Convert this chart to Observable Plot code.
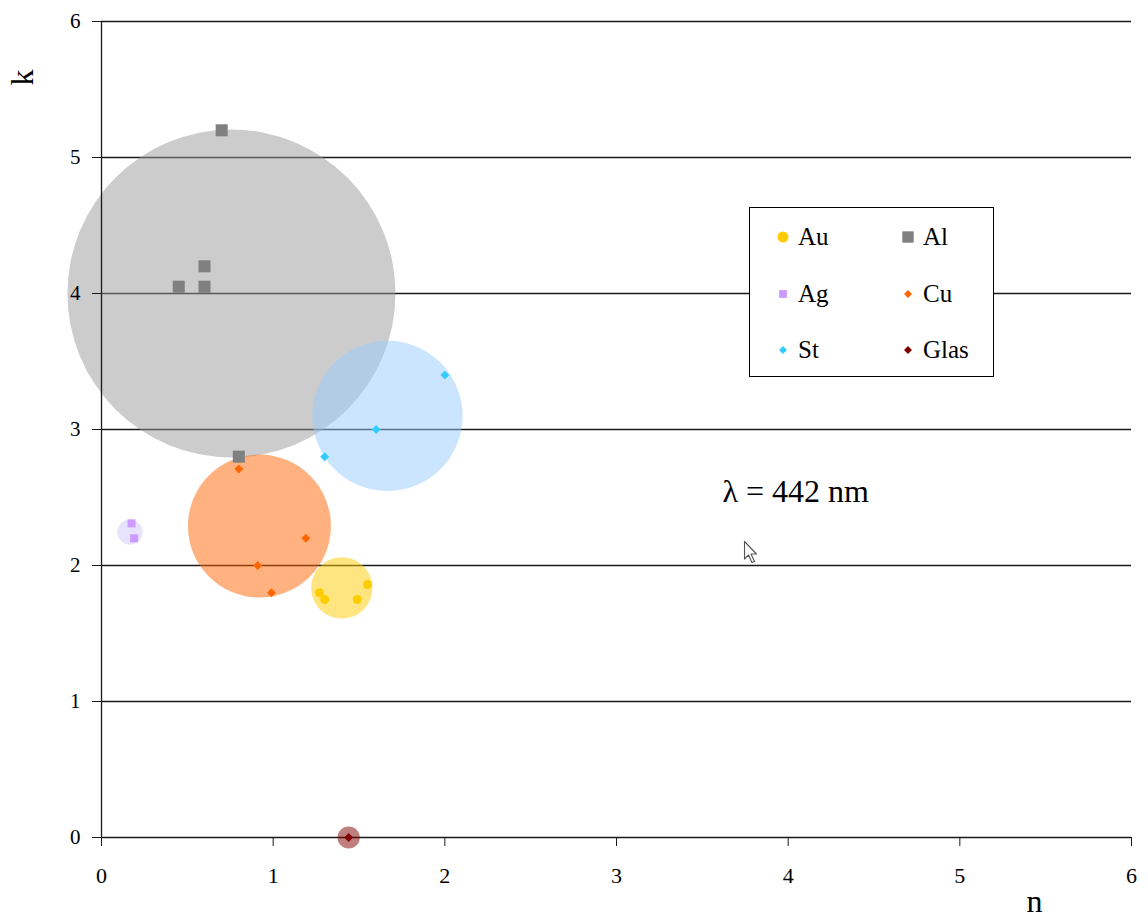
<!DOCTYPE html>
<html>
<head>
<meta charset="utf-8">
<script src="https://cdn.jsdelivr.net/npm/d3@7"></script>
<script src="https://cdn.jsdelivr.net/npm/@observablehq/plot@0.6"></script>
<style>
  body { margin: 0; background: #fff; }
  #wrap { position: relative; width: 1148px; height: 922px; font-family: "Liberation Serif", "Times New Roman", serif; }
  #wrap svg text { font-family: "Liberation Serif", "Times New Roman", serif; }
  #legend { position: absolute; left: 749px; top: 207px; width: 243px; height: 168px;
            border: 1.5px solid #000; background: #fff; }
  .item { position: absolute; display: flex; align-items: center; font-size: 25px; color: #000; height: 30px; }
  .item svg { width: 18px; height: 18px; margin-right: 6px; }
  #pointer { position: absolute; left: 743px; top: 540px; }
</style>
</head>
<body>
<div id="wrap"></div>
<script>
// Materials, their marker colours and marker shapes
const materials = ["Au", "Al", "Ag", "Cu", "St", "Glas"];
const colors    = ["#ffcc00", "#808080", "#cc99ff", "#ff6600", "#33ccff", "#800000"];
const symbols   = ["circle", "square", "square", "diamond2", "diamond2", "diamond2"];
const markerR   = [4.5, 6.8, 4.5, 4, 4, 4];

// Measured optical constants (n, k) per material at 442 nm
const auN = [1.27, 1.30, 1.55, 1.49];
const auK = [1.80, 1.75, 1.86, 1.75];
const alN = [0.70, 0.60, 0.45, 0.60, 0.80];
const alK = [5.20, 4.20, 4.05, 4.05, 2.80];
const agN = [0.175, 0.19];
const agK = [2.31, 2.20];
const cuN = [0.80, 1.19, 0.91, 0.99];
const cuK = [2.71, 2.20, 2.00, 1.80];
const stN = [2.00, 1.60, 1.30];
const stK = [3.40, 3.00, 2.80];
const glasN = [1.44];
const glasK = [0.00];

// Summary bubbles: centre (n, k) and relative spread per material
const bubbleMaterial = ["Al", "St", "Cu", "Au", "Ag", "Glas"];
const bubbleN    = [0.757, 1.666, 0.92, 1.40, 0.166, 1.44];
const bubbleK    = [4.00, 3.10, 2.29, 1.835, 2.245, 0.00];
const bubbleSize = [1.00, 0.21, 0.19, 0.035, 0.0059, 0.0046];
const bubbleFill    = ["#999999", "#99ccff", "#ff6600", "#ffcc00", "#9f8ff5", "#800000"];
const bubbleOpacity = [0.5, 0.5, 0.5, 0.5, 0.25, 0.5];

const axisTicks = [0, 1, 2, 3, 4, 5, 6];

const series = {Au: [auN, auK], Al: [alN, alK], Ag: [agN, agK], Cu: [cuN, cuK], St: [stN, stK], Glas: [glasN, glasK]};

const points = materials.flatMap((m, i) => series[m][0].map((n, j) => ({
  material: m, n, k: series[m][1][j]
})));

const bubbles = bubbleMaterial.map((m, i) => ({
  material: m, n: bubbleN[i], k: bubbleK[i], size: bubbleSize[i], fill: bubbleFill[i], opacity: bubbleOpacity[i]
}));

const lineColor = "#1a1a1a";
const serif = "Liberation Serif, Times New Roman, serif";

const chart = Plot.plot({
  width: 1148,
  height: 922,
  marginLeft: 101,
  marginRight: 17,
  marginTop: 21,
  marginBottom: 85,
  style: {fontFamily: serif, color: "#000", background: "#fff"},
  x: {domain: [0, 6]},
  y: {domain: [0, 6]},
  r: {type: "sqrt", domain: [0, 1], range: [0, 164]},
  color: {type: "identity"},
  opacity: {type: "identity"},
  marks: [
    Plot.gridY(axisTicks, {stroke: lineColor, strokeOpacity: 1, strokeWidth: 1.3}),
    // translucent summary bubbles
    Plot.dot(bubbles, {x: "n", y: "k", r: "size", fill: "fill", fillOpacity: "opacity", stroke: null}),
    Plot.ruleX([0], {stroke: lineColor, strokeWidth: 1.3}),
    Plot.axisY(axisTicks, {tickSize: 9, tickPadding: 12, fontSize: 21, fontFamily: serif, label: null,
                           stroke: lineColor, tickFormat: d => String(d)}),
    Plot.axisX(axisTicks, {tickSize: 9, tickPadding: 21, fontSize: 22, fontFamily: serif, label: null,
                           stroke: lineColor, tickFormat: d => String(d)}),
    // individual measurements
    ...materials.map((m, i) => Plot.dot(points.filter(d => d.material === m), {
      x: "n", y: "k", symbol: symbols[i], r: markerR[i], fill: colors[i], stroke: null
    })),
    // axis titles and wavelength note
    Plot.text(["k"], {frameAnchor: "top-left", dx: -91, dy: 64, rotate: -90, fontSize: 32, fontFamily: serif, text: d => d}),
    Plot.text(["n"], {frameAnchor: "bottom-right", dx: -89, dy: 74, fontSize: 32, fontFamily: serif, text: d => d}),
    Plot.text(["λ = 442 nm"], {frameAnchor: "top-left", dx: 621, dy: 458, textAnchor: "start", fontSize: 32, fontFamily: serif, text: d => d})
  ]
});

const wrap = document.getElementById("wrap");
wrap.appendChild(chart);

// Legend box, two columns
const legend = document.createElement("div");
legend.id = "legend";
const legendSize = {circle: 95, square: 130, diamond2: 40};
const legendSquareAg = 60;
materials.forEach((m, i) => {
  const col = i % 2, row = Math.floor(i / 2);
  const item = document.createElement("div");
  item.className = "item";
  item.style.left = (24 + col * 125) + "px";
  item.style.top = (14 + row * 56.5) + "px";
  const size = m === "Ag" ? legendSquareAg : legendSize[symbols[i]];
  const shape = {circle: d3.symbolCircle, square: d3.symbolSquare, diamond2: d3.symbolDiamond2}[symbols[i]];
  const path = d3.symbol(shape, size)();
  item.innerHTML = `<svg viewBox="-9 -9 18 18"><path d="${path}" fill="${colors[i]}"/></svg><span>${m}</span>`;
  legend.appendChild(item);
});
wrap.appendChild(legend);

// Mouse pointer icon resting on the plot
const pointer = document.createElementNS("http://www.w3.org/2000/svg", "svg");
pointer.id = "pointer";
pointer.setAttribute("width", "20");
pointer.setAttribute("height", "30");
pointer.innerHTML = `<path d="M1.5,1.5 L1.5,19 L5.5,15 L9,22.5 L11.5,21.5 L8,14 L13.5,14 Z" fill="#fff" stroke="#555" stroke-width="1.1" stroke-linejoin="round"/>`;
wrap.appendChild(pointer);
</script>
</body>
</html>
